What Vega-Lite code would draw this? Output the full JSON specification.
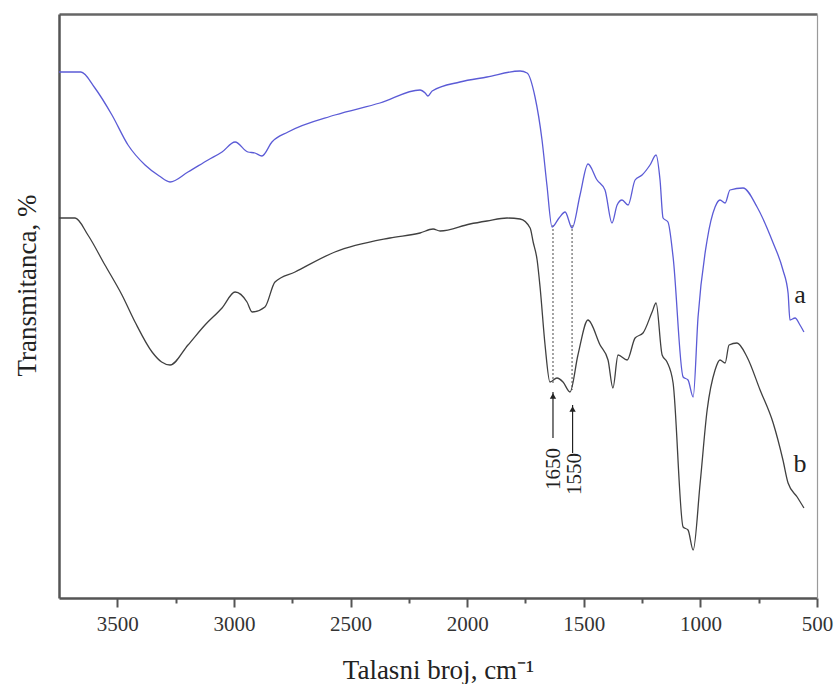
{
  "$schema": "https://vega.github.io/schema/vega-lite/v6.json",
  "width": 758,
  "height": 584,
  "autosize": {"type": "none"},
  "padding": {"left": 59, "top": 14, "right": 18, "bottom": 86},
  "background": "white",
  "config": {"view": {"stroke": null}, "font": "Liberation Serif"},
  "datasets": {
    "spectra": [
      {"s":"a","wn":3750,"t":526},{"s":"a","wn":3656,"t":526},{"s":"a","wn":3596,"t":510},{"s":"a","wn":3523,"t":483},
      {"s":"a","wn":3454,"t":453},{"s":"a","wn":3381,"t":433},{"s":"a","wn":3320,"t":422},{"s":"a","wn":3274,"t":416},{"s":"a","wn":3197,"t":426},
      {"s":"a","wn":3111,"t":438},{"s":"a","wn":3051,"t":446},{"s":"a","wn":2995,"t":456},{"s":"a","wn":2940,"t":446},
      {"s":"a","wn":2910,"t":445},{"s":"a","wn":2880,"t":442},{"s":"a","wn":2837,"t":456},{"s":"a","wn":2768,"t":466},
      {"s":"a","wn":2567,"t":483},{"s":"a","wn":2374,"t":495},{"s":"a","wn":2202,"t":508},{"s":"a","wn":2180,"t":505},
      {"s":"a","wn":2168,"t":502},{"s":"a","wn":2150,"t":507},{"s":"a","wn":2031,"t":516},{"s":"a","wn":1915,"t":521},
      {"s":"a","wn":1773,"t":527},{"s":"a","wn":1743,"t":525},{"s":"a","wn":1709,"t":501},{"s":"a","wn":1679,"t":458},
      {"s":"a","wn":1658,"t":413},{"s":"a","wn":1636,"t":371},{"s":"a","wn":1606,"t":380},{"s":"a","wn":1580,"t":386},
      {"s":"a","wn":1550,"t":370},{"s":"a","wn":1516,"t":403},{"s":"a","wn":1482,"t":434},{"s":"a","wn":1443,"t":418},
      {"s":"a","wn":1409,"t":408},{"s":"a","wn":1379,"t":375},{"s":"a","wn":1357,"t":393},{"s":"a","wn":1336,"t":398},
      {"s":"a","wn":1310,"t":393},{"s":"a","wn":1280,"t":418},{"s":"a","wn":1250,"t":423},{"s":"a","wn":1216,"t":433},
      {"s":"a","wn":1190,"t":443},{"s":"a","wn":1173,"t":418},{"s":"a","wn":1160,"t":380},{"s":"a","wn":1139,"t":376},
      {"s":"a","wn":1117,"t":341},{"s":"a","wn":1074,"t":221},{"s":"a","wn":1053,"t":218},{"s":"a","wn":1031,"t":201},
      {"s":"a","wn":1010,"t":281},{"s":"a","wn":971,"t":358},{"s":"a","wn":937,"t":391},{"s":"a","wn":916,"t":398},
      {"s":"a","wn":894,"t":395},{"s":"a","wn":873,"t":408},{"s":"a","wn":817,"t":410},{"s":"a","wn":757,"t":391},
      {"s":"a","wn":688,"t":355},{"s":"a","wn":646,"t":328},{"s":"a","wn":624,"t":305},{"s":"a","wn":616,"t":278},
      {"s":"a","wn":594,"t":280},{"s":"a","wn":573,"t":273},{"s":"a","wn":556,"t":266},
      {"s":"b","wn":3750,"t":380},{"s":"b","wn":3681,"t":380},{"s":"b","wn":3626,"t":363},{"s":"b","wn":3553,"t":333},
      {"s":"b","wn":3480,"t":303},{"s":"b","wn":3424,"t":276},{"s":"b","wn":3351,"t":246},{"s":"b","wn":3310,"t":236},{"s":"b","wn":3274,"t":233},
      {"s":"b","wn":3197,"t":253},{"s":"b","wn":3124,"t":273},{"s":"b","wn":3051,"t":290},{"s":"b","wn":2995,"t":306},
      {"s":"b","wn":2944,"t":296},{"s":"b","wn":2922,"t":286},{"s":"b","wn":2867,"t":291},{"s":"b","wn":2824,"t":316},
      {"s":"b","wn":2738,"t":326},{"s":"b","wn":2567,"t":346},{"s":"b","wn":2331,"t":360},{"s":"b","wn":2202,"t":365},
      {"s":"b","wn":2146,"t":369},{"s":"b","wn":2116,"t":367},{"s":"b","wn":1988,"t":374},{"s":"b","wn":1915,"t":377},
      {"s":"b","wn":1829,"t":380},{"s":"b","wn":1773,"t":379},{"s":"b","wn":1730,"t":370},{"s":"b","wn":1717,"t":356},
      {"s":"b","wn":1700,"t":338},{"s":"b","wn":1687,"t":310},{"s":"b","wn":1666,"t":253},{"s":"b","wn":1645,"t":216},
      {"s":"b","wn":1615,"t":220},{"s":"b","wn":1589,"t":216},{"s":"b","wn":1559,"t":206},{"s":"b","wn":1525,"t":243},
      {"s":"b","wn":1482,"t":278},{"s":"b","wn":1430,"t":253},{"s":"b","wn":1396,"t":238},{"s":"b","wn":1375,"t":210},
      {"s":"b","wn":1353,"t":243},{"s":"b","wn":1314,"t":238},{"s":"b","wn":1280,"t":260},{"s":"b","wn":1246,"t":265},
      {"s":"b","wn":1207,"t":286},{"s":"b","wn":1190,"t":295},{"s":"b","wn":1164,"t":243},{"s":"b","wn":1143,"t":236},
      {"s":"b","wn":1117,"t":215},{"s":"b","wn":1074,"t":71},{"s":"b","wn":1053,"t":68},{"s":"b","wn":1031,"t":48},
      {"s":"b","wn":1001,"t":115},{"s":"b","wn":971,"t":188},{"s":"b","wn":937,"t":228},{"s":"b","wn":916,"t":238},
      {"s":"b","wn":894,"t":235},{"s":"b","wn":877,"t":253},{"s":"b","wn":843,"t":255},{"s":"b","wn":800,"t":241},
      {"s":"b","wn":744,"t":208},{"s":"b","wn":688,"t":175},{"s":"b","wn":646,"t":138},{"s":"b","wn":624,"t":115},
      {"s":"b","wn":585,"t":101},{"s":"b","wn":556,"t":90}
    ],
    "guides": [
      {"wn":1632,"top":373,"bottom":215},
      {"wn":1550,"top":373,"bottom":208}
    ],
    "arrows": [
      {"wn":1632,"tip":206,"tail":160},
      {"wn":1548,"tip":193,"tail":145}
    ],
    "numbers": [
      {"wn":1627,"t":129,"label":"1650"},
      {"wn":1537,"t":124,"label":"1550"}
    ],
    "curveLabels": [
      {"wn":573,"t":303,"label":"a"},
      {"wn":573,"t":134,"label":"b"}
    ]
  },
  "resolve": {"axis": {"x": "independent", "y": "independent"}},
  "layer": [
    {
      "data": {"name": "guides"},
      "mark": {"type": "rule", "color": "#9a9a9a", "strokeWidth": 1.8, "strokeDash": [2, 2]},
      "encoding": {
        "x": {"field": "wn", "type": "quantitative", "scale": {"domain": [3750, 500], "nice": false},
          "axis": {"orient": "top", "labels": false, "ticks": false, "title": null, "grid": false,
                   "domainColor": "#666", "domainWidth": 2.5}},
        "y": {"field": "top", "type": "quantitative", "scale": {"domain": [0, 584], "nice": false, "zero": false},
          "axis": {"orient": "right", "labels": false, "ticks": false, "title": null, "grid": false,
                   "domainColor": "#9a9a9a", "domainWidth": 1.2}},
        "y2": {"field": "bottom"}
      }
    },
    {
      "data": {"name": "spectra"},
      "mark": {"type": "line", "strokeWidth": 1.3, "interpolate": "monotone"},
      "encoding": {
        "x": {"field": "wn", "type": "quantitative",
          "axis": {"orient": "bottom", "title": "Talasni broj, cm⁻¹", "grid": false,
                   "values": [3500, 3250, 3000, 2750, 2500, 2250, 2000, 1750, 1500, 1250, 1000, 750, 500],
                   "labelExpr": "datum.value % 500 === 0 ? datum.label : ''",
                   "format": "d",
                   "labelOverlap": false, "labelFlush": false,
                   "labelFont": "Liberation Serif", "labelFontSize": 21, "labelColor": "#333",
                   "labelPadding": 6,
                   "tickColor": "#555", "tickWidth": 2,
                   "tickSize": {"condition": {"test": "datum.value % 500 === 0", "value": 9}, "value": 5},
                   "domainColor": "#555", "domainWidth": 2.5,
                   "titleFont": "Liberation Serif", "titleFontSize": 27, "titleFontWeight": "normal",
                   "titleColor": "#222", "titleY": 80, "titleBaseline": "alphabetic"}},
        "y": {"field": "t", "type": "quantitative",
          "axis": {"orient": "left", "labels": false, "ticks": false, "grid": false,
                   "title": "Transmitanca, %",
                   "domainColor": "#555", "domainWidth": 2.5,
                   "titleFont": "Liberation Serif", "titleFontSize": 27, "titleFontWeight": "normal",
                   "titleColor": "#222", "titleAngle": 270, "titleAlign": "center",
                   "titleX": -24, "titleY": 271, "titleBaseline": "alphabetic"}},
        "color": {"field": "s", "type": "nominal", "legend": null,
          "scale": {"domain": ["a", "b"], "range": ["#5b5bd6", "#404040"]}},
        "detail": {"field": "s"}
      }
    },
    {
      "data": {"name": "arrows"},
      "mark": {"type": "rule", "color": "#222", "strokeWidth": 1.2},
      "encoding": {
        "x": {"field": "wn", "type": "quantitative", "axis": null},
        "y": {"field": "tip", "type": "quantitative", "axis": null},
        "y2": {"field": "tail"}
      }
    },
    {
      "data": {"name": "arrows"},
      "mark": {"type": "point", "shape": "triangle-up", "filled": true, "color": "#222", "size": 40, "opacity": 1, "yOffset": 4},
      "encoding": {
        "x": {"field": "wn", "type": "quantitative", "axis": null},
        "y": {"field": "tip", "type": "quantitative", "axis": null}
      }
    },
    {
      "data": {"name": "numbers"},
      "mark": {"type": "text", "angle": 270, "align": "center", "baseline": "middle", "font": "Liberation Serif", "fontSize": 21, "color": "#222"},
      "encoding": {
        "x": {"field": "wn", "type": "quantitative", "axis": null},
        "y": {"field": "t", "type": "quantitative", "axis": null},
        "text": {"field": "label"}
      }
    },
    {
      "data": {"name": "curveLabels"},
      "mark": {"type": "text", "align": "center", "baseline": "middle", "font": "Liberation Serif", "fontSize": 26, "color": "#222"},
      "encoding": {
        "x": {"field": "wn", "type": "quantitative", "axis": null},
        "y": {"field": "t", "type": "quantitative", "axis": null},
        "text": {"field": "label"}
      }
    }
  ]
}
